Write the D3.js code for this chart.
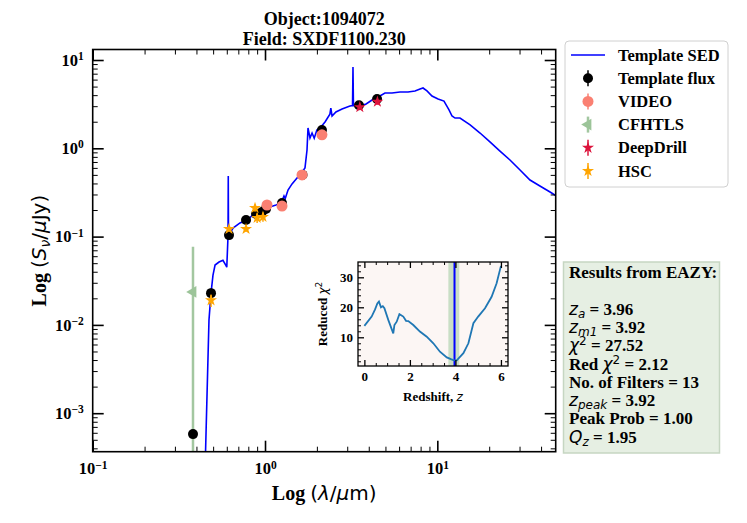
<!DOCTYPE html>
<html>
<head>
<meta charset="utf-8">
<script src="https://cdn.jsdelivr.net/npm/d3@7"></script>
<style>
  body { margin: 0; background: #fff; }
  text { font-family: "Liberation Serif", "Times New Roman", serif; font-weight: bold; fill: #000; }
  .m { font-family: "DejaVu Sans", sans-serif; font-weight: normal; }
  .mi { font-family: "DejaVu Sans", sans-serif; font-weight: normal; font-style: italic; }
</style>
</head>
<body>
<svg id="chart" width="747" height="523"></svg>
<script>
"use strict";

// ---- data ----
const sedWave = [0.449, 0.473, 0.486, 0.499, 0.513, 0.541, 0.570, 0.594, 0.600, 0.610, 0.612, 0.614,
  0.652, 0.716, 0.786, 0.852, 0.911, 0.987, 1.069, 1.158, 1.239, 1.289, 1.31, 1.36, 1.435, 1.534, 1.64,
  1.706, 1.753, 1.776, 1.824, 1.875, 1.93, 2.0, 2.085, 2.23, 2.38, 2.41, 2.45, 2.58, 2.80, 3.11, 3.22,
  3.24, 3.26, 3.56, 3.86, 4.18, 4.53, 4.97, 5.46, 6.07, 6.76, 7.42, 7.94, 8.26, 8.71, 9.31, 10.1, 10.93,
  11.69, 12.17, 12.67, 13.54, 15.5, 17.7, 20.2, 23.1, 26.4, 30.2, 34.5, 39.4, 45.1, 50.1];
const sedFlux = [0.00023, 0.0114, 0.0229, 0.0367, 0.0476, 0.0515, 0.054, 0.0468, 0.045, 0.1016, 0.485, 0.1016,
  0.125, 0.143, 0.154, 0.176, 0.19, 0.211, 0.216, 0.228, 0.240, 0.288, 0.27, 0.337, 0.395, 0.461, 0.54,
  0.599, 0.957, 1.70, 1.31, 1.49, 1.30, 1.61, 1.70, 1.99, 2.44, 2.86, 2.32, 2.58, 2.79, 3.01, 3.05,
  8.33, 3.05, 3.01, 3.18, 3.52, 3.81, 4.23, 4.23, 4.34, 4.34, 4.46, 4.70, 4.82, 4.46, 3.91, 3.61, 3.43,
  2.72, 2.32, 2.20, 2.20, 1.84, 1.49, 1.18, 0.93, 0.737, 0.568, 0.437, 0.374, 0.32, 0.281];

const tmplWave = [0.382, 0.486, 0.618, 0.776, 0.887, 0.96, 1.013, 1.255, 1.65, 2.14, 3.51, 4.47];
const tmplFlux = [0.00058, 0.0229, 0.104, 0.154, 0.180, 0.19, 0.206, 0.24, 0.50, 1.61, 3.08, 3.61];
const tmplErr  = [0.00002, 0.003, 0.008, 0.01, 0.01, 0.01, 0.01, 0.015, 0.03, 0.1, 0.25, 0.25];

const videoWave = [1.027, 1.255, 1.64, 2.14];
const videoFlux = [0.228, 0.222, 0.50, 1.42];
const videoErr  = [0.02, 0.02, 0.04, 0.15];

const cfhtWave = [0.382];
const cfhtFlux = [0.0236];
const cfhtErr  = [0.053];

const ddWave = [3.55, 4.49];
const ddFlux = [2.93, 3.37];
const ddErr  = [0.2, 0.25];

const hscWave = [0.486, 0.618, 0.776, 0.875, 0.90, 0.973];
const hscFlux = [0.019, 0.122, 0.122, 0.211, 0.163, 0.167];
const hscErr  = [0.003, 0.008, 0.008, 0.02, 0.02, 0.02];

const zGrid  = [0, 0.32, 0.47, 0.57, 0.64, 0.73, 0.81, 0.88, 1.05, 1.27, 1.32, 1.42, 1.54, 1.71, 1.83, 1.93,
  2.15, 2.44, 2.74, 3.03, 3.32, 3.62, 3.8, 3.91, 4.06, 4.35, 4.57, 4.79, 5.0, 5.3, 5.59, 5.81, 6.0];
const chiRed = [13.8, 16.9, 19.3, 21.3, 21.9, 20, 20.4, 19.7, 15.8, 11.3, 14.1, 15.2, 17.7, 16.9, 15.5, 15.4,
  14.1, 11.9, 10.2, 8, 5.2, 3.3, 2.7, 2.4, 2.3, 4.7, 8, 14.7, 16.9, 19.7, 23.5, 28, 33.8];
const zBest = 3.96;
const zBand = [3.69, 4.17];

const legendNames = ["Template SED", "Template flux", "VIDEO", "CFHTLS", "DeepDrill", "HSC"];
const titleLines = ["Object:1094072", "Field: SXDF1100.230"];

// result lines: [text, style] segments; mi = math italic, sub/sup offsets
const resultLines = [
  [["Results from EAZY:"]],
  [],
  [["z", "mi"], ["a", "mi sub"], [" = 3.96"]],
  [["z", "mi"], ["m1", "mi sub"], [" = 3.92"]],
  [["\u03c7", "mi"], ["2", "m sup"], [" = 27.52"]],
  [["Red "], ["\u03c7", "mi"], ["2", "m sup"], [" = 2.12"]],
  [["No. of Filters = 13"]],
  [["z", "mi"], ["peak", "mi sub"], [" = 3.92"]],
  [["Peak Prob = 1.00"]],
  [["Q", "mi"], ["z", "mi sub"], [" = 1.95"]]
];

const zip = (a, b, c) => a.map((v, i) => ({ w: v, f: b[i], e: c ? c[i] : 0 }));

// ---- layout ----
const M = { left: 92.7, right: 555.7, top: 49.5, bottom: 451.7 };
const svg = d3.select("#chart");
const defs = svg.append("defs");

const x = d3.scaleLog().domain([0.1, Math.pow(10, 1.687)]).range([M.left, M.right]);
const y = d3.scaleLog().domain([Math.pow(10, -3.436), Math.pow(10, 1.119)]).range([M.bottom, M.top]);

defs.append("clipPath").attr("id", "clipMain").append("rect")
  .attr("x", M.left).attr("y", M.top).attr("width", M.right - M.left).attr("height", M.bottom - M.top);

const plot = svg.append("g").attr("clip-path", "url(#clipMain)");

// template SED
plot.append("path")
  .datum(zip(sedWave, sedFlux))
  .attr("fill", "none").attr("stroke", "#0000ff").attr("stroke-width", 1.6)
  .attr("d", d3.line().x(d => x(d.w)).y(d => y(d.f)));

function errBars(g, data, color, width) {
  g.selectAll(null).data(data).enter().append("line")
    .attr("x1", d => x(d.w)).attr("x2", d => x(d.w))
    .attr("y1", d => y(d.f + d.e))
    .attr("y2", d => d.f - d.e > 0 ? y(d.f - d.e) : M.bottom + 10)
    .attr("stroke", color).attr("stroke-width", width);
}

// CFHTLS
const cfht = zip(cfhtWave, cfhtFlux, cfhtErr);
errBars(plot, cfht, "#a3c7a0", 2.5);
plot.selectAll(null).data(cfht).enter().append("path")
  .attr("transform", d => `translate(${x(d.w)},${y(d.f)}) rotate(-90)`)
  .attr("d", d3.symbol(d3.symbolTriangle, 60)).attr("fill", "#9cc499");

// template flux
const tmpl = zip(tmplWave, tmplFlux, tmplErr);
errBars(plot, tmpl, "#000", 1.5);
plot.selectAll(null).data(tmpl).enter().append("circle")
  .attr("cx", d => x(d.w)).attr("cy", d => y(d.f)).attr("r", 5).attr("fill", "#000");

// VIDEO
const video = zip(videoWave, videoFlux, videoErr);
errBars(plot, video, "#fa8072", 1.5);
plot.selectAll(null).data(video).enter().append("circle")
  .attr("cx", d => x(d.w)).attr("cy", d => y(d.f)).attr("r", 5.5).attr("fill", "#fa8072");

// DeepDrill
const dd = zip(ddWave, ddFlux, ddErr);
errBars(plot, dd, "#dc143c", 1.5);
plot.selectAll(null).data(dd).enter().append("path")
  .attr("transform", d => `translate(${x(d.w)},${y(d.f)})`)
  .attr("d", d3.symbol(d3.symbolStar, 45)).attr("fill", "#dc143c");

// HSC
const hsc = zip(hscWave, hscFlux, hscErr);
errBars(plot, hsc, "#ffa500", 1.5);
plot.selectAll(null).data(hsc).enter().append("path")
  .attr("transform", d => `translate(${x(d.w)},${y(d.f)})`)
  .attr("d", d3.symbol(d3.symbolStar, 45)).attr("fill", "#ffa500");

// ---- axes ----
function minorLog(lo, hi) {
  const out = [];
  for (let e = -5; e <= 3; e++)
    for (let k = 2; k <= 9; k++) {
      const v = k * Math.pow(10, e);
      if (v > lo && v < hi) out.push(v);
    }
  return out;
}

function supLabels(g, fs) {
  g.selectAll(".tick text").each(function(d) {
    const e = Math.round(Math.log10(d));
    const t = d3.select(this).text(null);
    t.append("tspan").text("10");
    t.append("tspan").attr("dy", "-0.5em").attr("font-size", fs).text(e < 0 ? "\u2212" + (-e) : e);
  });
}

function styleAxis(g, sw) {
  g.select(".domain").remove();
  g.selectAll(".tick line").attr("stroke", "#000").attr("stroke-width", sw);
}

const majX = [0.1, 1, 10], majY = [0.001, 0.01, 0.1, 1, 10];
const minX = minorLog(0.1, x.domain()[1]), minY = minorLog(y.domain()[0], y.domain()[1]);

const axes = [
  [d3.axisBottom, x, M.bottom, "y"], [d3.axisTop, x, M.top, "y"],
  [d3.axisLeft, y, M.left, "x"], [d3.axisRight, y, M.right, "x"]
];
axes.forEach(([fn, sc, pos, dir], i) => {
  const maj = sc === x ? majX : majY, mn = sc === x ? minX : minY;
  const tr = dir === "y" ? `translate(0,${pos})` : `translate(${pos},0)`;
  const gm = svg.append("g").attr("transform", tr)
    .call(fn(sc).tickValues(mn).tickSize(-5).tickFormat(""));
  styleAxis(gm, 1);
  const g = svg.append("g").attr("transform", tr)
    .call(fn(sc).tickValues(maj).tickSize(-11).tickPadding(i === 0 ? 11 : 9)
      .tickFormat(i < 1 || i === 2 ? (d => d) : ""));
  styleAxis(g, 1.6);
  g.selectAll(".tick text").attr("font-size", 16.5).attr("font-family", "Liberation Serif").attr("font-weight", "bold");
  if (i === 0 || i === 2) supLabels(g, 11.5);
});

svg.append("rect").attr("x", M.left).attr("y", M.top)
  .attr("width", M.right - M.left).attr("height", M.bottom - M.top)
  .attr("fill", "none").attr("stroke", "#000").attr("stroke-width", 1.6);

// axis titles
const xl = svg.append("text").attr("x", (M.left + M.right) / 2).attr("y", 500)
  .attr("text-anchor", "middle").attr("font-size", 20);
xl.append("tspan").text("Log ");
xl.append("tspan").attr("class", "m").text("(");
xl.append("tspan").attr("class", "mi").text("\u03bb");
xl.append("tspan").attr("class", "m").text("/");
xl.append("tspan").attr("class", "mi").text("\u03bc");
xl.append("tspan").attr("class", "m").text("m)");

const yl = svg.append("text")
  .attr("transform", `translate(46,${(M.top + M.bottom) / 2}) rotate(-90)`)
  .attr("text-anchor", "middle").attr("font-size", 20);
yl.append("tspan").text("Log ");
yl.append("tspan").attr("class", "m").text("(");
yl.append("tspan").attr("class", "mi").text("S");
yl.append("tspan").attr("class", "mi").attr("font-size", 14).attr("dy", 4).text("\u03bd");
yl.append("tspan").attr("class", "m").attr("dy", -4).text("/");
yl.append("tspan").attr("class", "mi").text("\u03bc");
yl.append("tspan").attr("class", "m").text("Jy)");

// title
svg.selectAll(null).data(titleLines).enter().append("text")
  .attr("x", (M.left + M.right) / 2).attr("y", (d, i) => 25 + i * 19.5)
  .attr("text-anchor", "middle").attr("font-size", 18).text(d => d);

// ---- legend ----
const leg = svg.append("g");
leg.append("rect").attr("x", 565).attr("y", 41).attr("width", 163).attr("height", 146).attr("rx", 4)
  .attr("fill", "#fff").attr("stroke", "#d0d0d0").attr("stroke-width", 1);
const legColors = ["#0000ff", "#000", "#fa8072", "#9cc499", "#dc143c", "#ffa500"];
legendNames.forEach((name, i) => {
  const cy = 55 + i * 23.2, cx = 588;
  const row = leg.append("g");
  if (i === 0) {
    row.append("line").attr("x1", 571).attr("x2", 605).attr("y1", cy).attr("y2", cy)
      .attr("stroke", legColors[i]).attr("stroke-width", 1.6);
  } else {
    row.append("line").attr("x1", cx).attr("x2", cx).attr("y1", cy - 8).attr("y2", cy + 8)
      .attr("stroke", i === 3 ? "#a3c7a0" : legColors[i]).attr("stroke-width", i === 3 ? 2.5 : 1.5);
    if (i === 1 || i === 2) {
      row.append("circle").attr("cx", cx).attr("cy", cy).attr("r", i === 1 ? 5 : 5.5).attr("fill", legColors[i]);
    } else if (i === 3) {
      row.append("path").attr("transform", `translate(${cx},${cy}) rotate(-90)`)
        .attr("d", d3.symbol(d3.symbolTriangle, 60)).attr("fill", legColors[i]);
    } else {
      row.append("path").attr("transform", `translate(${cx},${cy})`)
        .attr("d", d3.symbol(d3.symbolStar, 45)).attr("fill", legColors[i]);
    }
  }
  row.append("text").attr("x", 618).attr("y", cy + 5.5).attr("font-size", 16.5).text(name);
});

// ---- results box ----
const res = svg.append("g");
res.append("rect").attr("x", 563.5).attr("y", 262).attr("width", 156).attr("height", 191)
  .attr("fill", "#e6efe3").attr("stroke", "#c6d6c2").attr("stroke-width", 1.5);
resultLines.forEach((segs, i) => {
  if (!segs.length) return;
  const t = res.append("text").attr("x", 569).attr("y", 278 + i * 18.3).attr("font-size", 17);
  let shift = 0;
  segs.forEach(([s, cls]) => {
    const sp = t.append("tspan").text(s);
    let want = 0;
    if (cls) {
      const parts = cls.split(" ");
      sp.attr("class", parts[0]);
      if (parts.includes("sub")) { want = 3; sp.attr("font-size", 12); }
      if (parts.includes("sup")) { want = -6; sp.attr("font-size", 12); }
    }
    if (want !== shift) { sp.attr("dy", want - shift); shift = want; }
  });
});

// ---- inset: reduced chi^2 vs z ----
const I = { left: 358, right: 508, top: 262, bottom: 366 };
const zx = d3.scaleLinear().domain([-0.28, 6.31]).range([I.left, I.right]);
const cy2 = d3.scaleLinear().domain([0.43, 35.1]).range([I.bottom, I.top]);

defs.append("clipPath").attr("id", "clipInset").append("rect")
  .attr("x", I.left).attr("y", I.top).attr("width", I.right - I.left).attr("height", I.bottom - I.top);

svg.append("rect").attr("x", I.left).attr("y", I.top)
  .attr("width", I.right - I.left).attr("height", I.bottom - I.top).attr("fill", "#fcf6f4");
const ins = svg.append("g").attr("clip-path", "url(#clipInset)");
ins.append("rect").attr("x", zx(zBand[0])).attr("y", I.top)
  .attr("width", zx(zBand[1]) - zx(zBand[0])).attr("height", I.bottom - I.top).attr("fill", "#c9dec5");
ins.append("line").attr("x1", zx(zBest)).attr("x2", zx(zBest)).attr("y1", I.top).attr("y2", I.bottom)
  .attr("stroke", "#0000ff").attr("stroke-width", 2);
ins.append("path").datum(zGrid.map((z, i) => [z, chiRed[i]]))
  .attr("fill", "none").attr("stroke", "#1f77b4").attr("stroke-width", 1.8)
  .attr("d", d3.line().x(d => zx(d[0])).y(d => cy2(d[1])));

const zMin = d3.range(-0.0, 6.3, 0.5).filter(v => v % 2 !== 0);
const cMin = d3.range(2, 35, 2).filter(v => v % 10 !== 0);
[[d3.axisBottom, zx, I.bottom, true], [d3.axisTop, zx, I.top, false],
 [d3.axisLeft, cy2, I.left, true], [d3.axisRight, cy2, I.right, false]].forEach(([fn, sc, pos, lab]) => {
  const horiz = sc === zx;
  const tr = horiz ? `translate(0,${pos})` : `translate(${pos},0)`;
  const gm = svg.append("g").attr("transform", tr)
    .call(fn(sc).tickValues(horiz ? zMin : cMin).tickSize(-3).tickFormat(""));
  styleAxis(gm, 1);
  const g = svg.append("g").attr("transform", tr)
    .call(fn(sc).tickValues(horiz ? [0, 2, 4, 6] : [10, 20, 30]).tickSize(-6).tickPadding(horiz ? 6 : 5)
      .tickFormat(lab ? d3.format("d") : ""));
  styleAxis(g, 1.3);
  g.selectAll(".tick text").attr("font-size", 13).attr("font-family", "Liberation Serif").attr("font-weight", "bold");
});
svg.append("rect").attr("x", I.left).attr("y", I.top)
  .attr("width", I.right - I.left).attr("height", I.bottom - I.top)
  .attr("fill", "none").attr("stroke", "#000").attr("stroke-width", 1.3);

const il = svg.append("text").attr("x", (I.left + I.right) / 2).attr("y", 401)
  .attr("text-anchor", "middle").attr("font-size", 13);
il.append("tspan").text("Redshift, ");
il.append("tspan").attr("class", "mi").attr("font-size", 12).text("z");

const iy = svg.append("text")
  .attr("transform", `translate(327,${(I.top + I.bottom) / 2}) rotate(-90)`)
  .attr("text-anchor", "middle").attr("font-size", 13);
iy.append("tspan").text("Reduced ");
iy.append("tspan").attr("class", "mi").attr("font-size", 12).text("\u03c7");
iy.append("tspan").attr("class", "m").attr("font-size", 9).attr("dy", -5).text("2");
</script>
</body>
</html>
